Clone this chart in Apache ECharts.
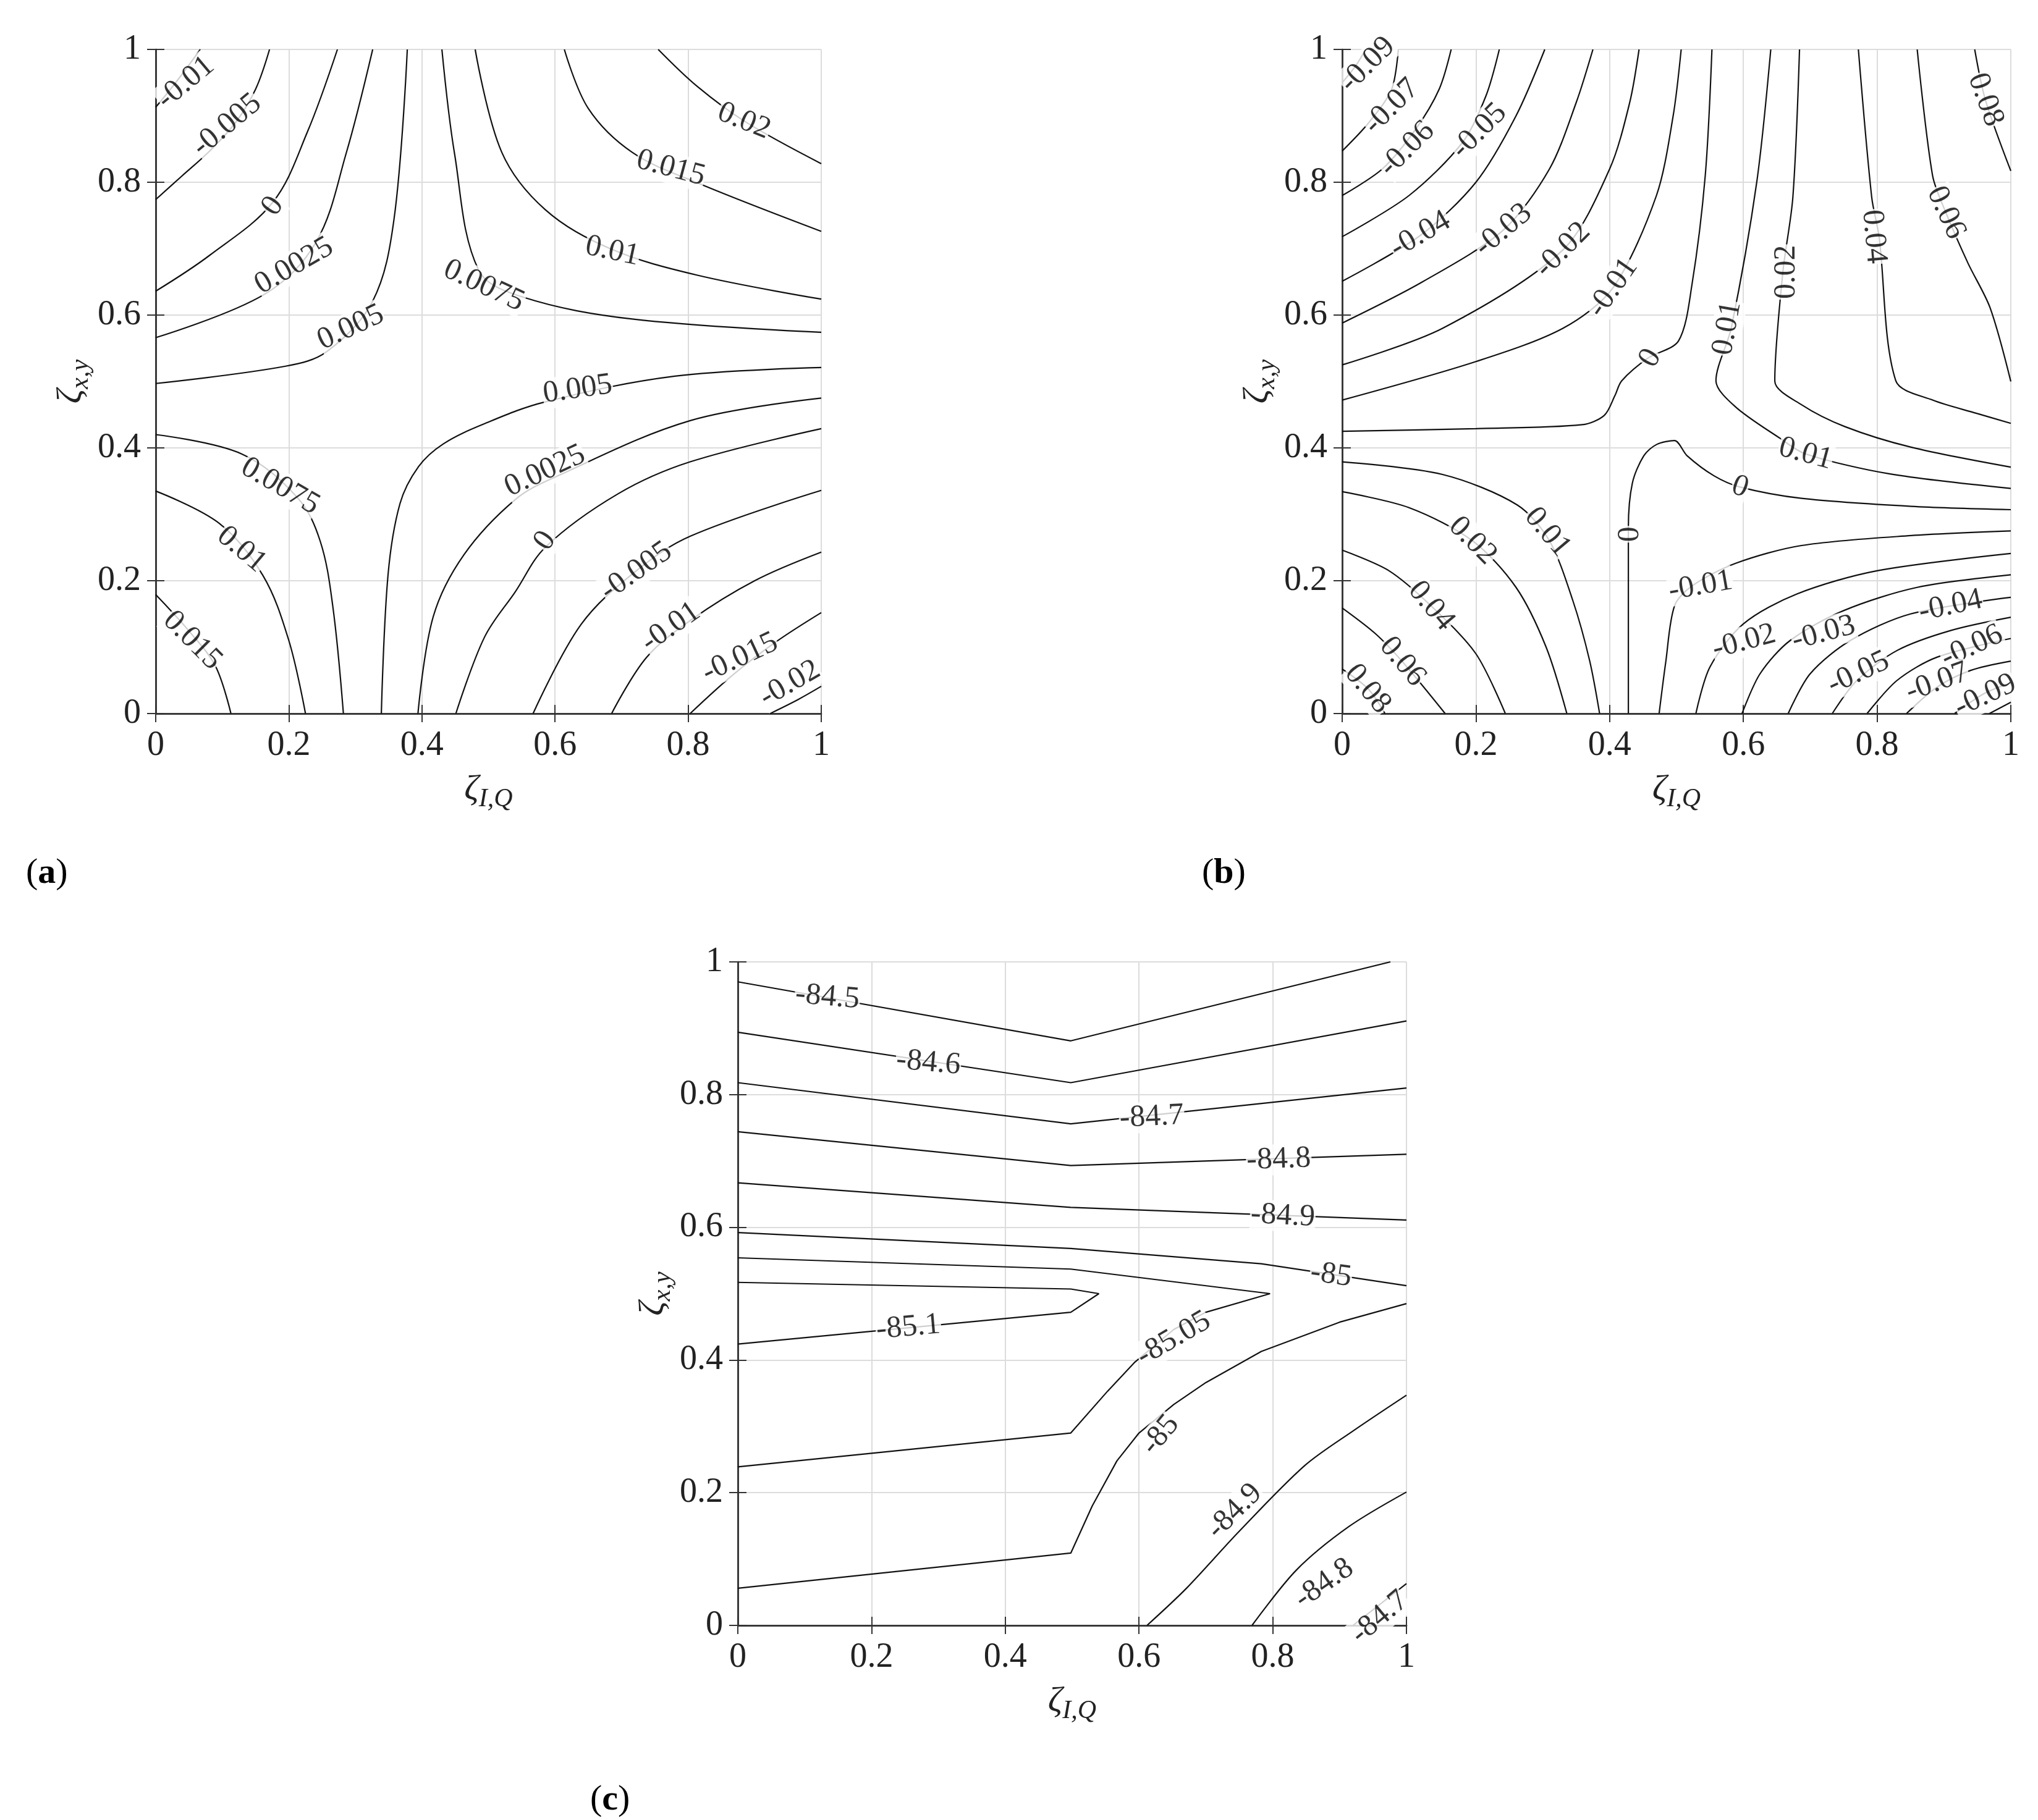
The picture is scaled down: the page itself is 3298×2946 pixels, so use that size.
<!DOCTYPE html>
<html>
<head>
<meta charset="utf-8">
<script src="https://cdn.jsdelivr.net/npm/echarts@6/dist/echarts.min.js"></script>
<style>
  html, body { margin: 0; padding: 0; background: #fff; }
  #chart { width: 3298px; height: 2946px; }
</style>
</head>
<body>
<div id="chart"></div>
<script>
// tick values shared by all three panels
const ticks = [0, 0.2, 0.4, 0.6, 0.8, 1];

// panel (a): contour paths [x, y]
const aPaths = [
    [[0, 0.913], [0.03, 0.95], [0.067, 1]],
    [[0, 0.774], [0.04, 0.81], [0.08, 0.846], [0.12, 0.89], [0.15, 0.94], [0.171, 1]],
    [[0, 0.636], [0.081, 0.69], [0.176, 0.77], [0.228, 0.876], [0.273, 1]],
    [[0, 0.566], [0.163, 0.631], [0.241, 0.71], [0.286, 0.843], [0.326, 1]],
    [[0, 0.497], [0.195, 0.523], [0.257, 0.545], [0.326, 0.621], [0.358, 0.744], [0.378, 1]],
    [[0.43, 1], [0.449, 0.843], [0.485, 0.668], [0.552, 0.627], [0.716, 0.594], [1, 0.574]],
    [[0.48, 1], [0.52, 0.845], [0.585, 0.759], [0.683, 0.7], [0.814, 0.66], [1, 0.624]],
    [[0.614, 1], [0.65, 0.911], [0.716, 0.845], [0.814, 0.799], [1, 0.726]],
    [[0.755, 1], [0.814, 0.944], [0.886, 0.891], [1, 0.828]],
    [[0, 0.42], [0.129, 0.391], [0.213, 0.325], [0.247, 0.26], [0.266, 0.162], [0.282, 0]],
    [[0, 0.335], [0.096, 0.286], [0.161, 0.208], [0.2, 0.11], [0.225, 0]],
    [[0, 0.179], [0.051, 0.123], [0.09, 0.071], [0.113, 0]],
    [[0.339, 0], [0.349, 0.208], [0.367, 0.316], [0.395, 0.372], [0.432, 0.406], [0.493, 0.436], [0.584, 0.469], [0.78, 0.508], [1, 0.521]],
    [[0.394, 0], [0.417, 0.146], [0.463, 0.239], [0.54, 0.322], [0.602, 0.357], [0.803, 0.441], [1, 0.475]],
    [[0.451, 0], [0.494, 0.115], [0.54, 0.183], [0.586, 0.251], [0.695, 0.331], [0.803, 0.379], [1, 0.429]],
    [[0.567, 0], [0.639, 0.134], [0.721, 0.214], [0.803, 0.267], [1, 0.336]],
    [[0.685, 0], [0.737, 0.084], [0.803, 0.14], [0.9, 0.2], [1, 0.243]],
    [[0.803, 0], [0.867, 0.058], [0.932, 0.108], [1, 0.152]],
    [[0.923, 0], [0.965, 0.021], [1, 0.041]]
];
// [x, y, text, rotation]
const aLabels = [
    [0.045, 0.95, '-0.01', 40], [0.107, 0.886, '-0.005', 40], [0.176, 0.764, '0', 55],
    [0.208, 0.674, '0.0025', 30], [0.293, 0.581, '0.005', 25], [0.493, 0.644, '0.0075', -25],
    [0.686, 0.696, '0.01', -12], [0.774, 0.821, '0.015', -15], [0.884, 0.892, '0.02', -22],
    [0.634, 0.488, '0.005', 8], [0.585, 0.365, '0.0025', 25], [0.585, 0.26, '0', 55],
    [0.722, 0.214, '-0.005', 35], [0.774, 0.13, '-0.01', 35], [0.878, 0.084, '-0.015', 25],
    [0.953, 0.045, '-0.02', 30], [0.187, 0.342, '0.0075', -30], [0.129, 0.247, '0.01', -40],
    [0.055, 0.11, '0.015', -45]
];

// panel (b)
const bPaths = [
    [[0, 0.95], [0.02, 0.975], [0.035, 1]],
    [[0, 0.847], [0.04, 0.89], [0.074, 0.94], [0.084, 1]],
    [[0, 0.78], [0.06, 0.82], [0.11, 0.88], [0.145, 0.94], [0.163, 1]],
    [[0, 0.718], [0.1, 0.78], [0.18, 0.86], [0.215, 0.93], [0.235, 1]],
    [[0, 0.651], [0.117, 0.72], [0.2, 0.8], [0.26, 0.9], [0.303, 1]],
    [[0, 0.588], [0.12, 0.65], [0.241, 0.728], [0.31, 0.82], [0.35, 0.92], [0.375, 1]],
    [[0, 0.525], [0.15, 0.58], [0.33, 0.698], [0.4, 0.82], [0.43, 0.92], [0.444, 1]],
    [[0, 0.472], [0.2, 0.53], [0.33, 0.58], [0.405, 0.641], [0.47, 0.78], [0.495, 0.9], [0.507, 1]],
    [[0, 0.425], [0.2, 0.429], [0.359, 0.435], [0.392, 0.449], [0.408, 0.479], [0.418, 0.501], [0.457, 0.535], [0.503, 0.561], [0.523, 0.645], [0.543, 0.81], [0.553, 1]],
    [[0.641, 1], [0.62, 0.8], [0.582, 0.581], [0.559, 0.501], [0.588, 0.462], [0.654, 0.415], [0.693, 0.391], [0.818, 0.361], [1, 0.339]],
    [[0.684, 1], [0.674, 0.777], [0.659, 0.664], [0.647, 0.501], [0.687, 0.465], [0.752, 0.432], [0.851, 0.401], [1, 0.371]],
    [[0.772, 1], [0.792, 0.777], [0.803, 0.718], [0.828, 0.501], [0.883, 0.472], [0.949, 0.452], [1, 0.437]],
    [[0.86, 1], [0.883, 0.81], [0.903, 0.754], [0.936, 0.678], [0.969, 0.611], [1, 0.5]],
    [[0.946, 1], [0.962, 0.924], [1, 0.817]],
    [[0.428, 0], [0.428, 0.28], [0.434, 0.347], [0.451, 0.388], [0.47, 0.405], [0.497, 0.411], [0.516, 0.388], [0.556, 0.358], [0.595, 0.341], [0.687, 0.324], [0.851, 0.312], [1, 0.307]],
    [[0, 0.379], [0.15, 0.36], [0.262, 0.314], [0.31, 0.26], [0.345, 0.17], [0.37, 0.08], [0.385, 0]],
    [[0, 0.334], [0.1, 0.31], [0.195, 0.26], [0.26, 0.19], [0.305, 0.1], [0.336, 0]],
    [[0, 0.246], [0.07, 0.215], [0.133, 0.162], [0.2, 0.09], [0.244, 0]],
    [[0, 0.159], [0.05, 0.12], [0.091, 0.077], [0.154, 0]],
    [[0, 0.067], [0.039, 0.037], [0.064, 0]],
    [[0.474, 0], [0.484, 0.078], [0.497, 0.162], [0.523, 0.192], [0.588, 0.226], [0.687, 0.253], [0.851, 0.268], [1, 0.275]],
    [[0.529, 0], [0.55, 0.07], [0.6, 0.135], [0.68, 0.18], [0.8, 0.215], [1, 0.241]],
    [[0.598, 0], [0.625, 0.06], [0.67, 0.11], [0.75, 0.155], [0.86, 0.19], [1, 0.209]],
    [[0.667, 0], [0.7, 0.06], [0.76, 0.11], [0.85, 0.15], [1, 0.175]],
    [[0.733, 0], [0.77, 0.05], [0.83, 0.095], [0.91, 0.125], [1, 0.145]],
    [[0.785, 0], [0.83, 0.05], [0.89, 0.085], [1, 0.113]],
    [[0.844, 0], [0.89, 0.04], [0.94, 0.065], [1, 0.079]],
    [[0.916, 0], [0.96, 0.03], [1, 0.046]],
    [[0.968, 0], [1, 0.017]]
];
const bLabels = [
    [0.038, 0.977, '-0.09', 45], [0.074, 0.914, '-0.07', 45], [0.097, 0.85, '-0.06', 45],
    [0.205, 0.877, '-0.05', 45], [0.117, 0.721, '-0.04', 30], [0.241, 0.728, '-0.03', 40],
    [0.33, 0.698, '-0.02', 45], [0.405, 0.641, '-0.01', 55], [0.461, 0.535, '0', 60],
    [0.576, 0.58, '0.01', 80], [0.664, 0.665, '0.02', 90], [0.795, 0.718, '0.04', -85],
    [0.903, 0.754, '0.06', -65], [0.962, 0.924, '0.08', -70],
    [0.693, 0.391, '0.01', -15], [0.595, 0.341, '0', -20], [0.431, 0.27, '0', 90],
    [0.307, 0.273, '0.01', -50], [0.195, 0.26, '0.02', -45], [0.133, 0.162, '0.04', -50],
    [0.09, 0.078, '0.06', -50], [0.038, 0.037, '0.08', -50],
    [0.536, 0.192, '-0.01', 10], [0.601, 0.108, '-0.02', 15], [0.72, 0.121, '-0.03', 15],
    [0.91, 0.162, '-0.04', 12], [0.772, 0.061, '-0.05', 25], [0.942, 0.101, '-0.06', 25],
    [0.89, 0.047, '-0.07', 20], [0.962, 0.027, '-0.09', 25]
];

// panel (c); the last three paths are curved, the rest straight segments
const cPaths = [
    [[0, 0.97], [0.498, 0.881], [0.976, 1]],
    [[0, 0.894], [0.498, 0.818], [1, 0.911]],
    [[0, 0.818], [0.498, 0.756], [1, 0.81]],
    [[0, 0.744], [0.498, 0.693], [1, 0.71]],
    [[0, 0.667], [0.498, 0.63], [1, 0.611]],
    [[0, 0.592], [0.498, 0.568], [0.783, 0.545], [1, 0.512]],
    [[0, 0.554], [0.498, 0.537], [0.796, 0.5], [0.7, 0.472], [0.652, 0.446], [0.593, 0.396], [0.553, 0.353], [0.498, 0.29], [0, 0.239]],
    [[0, 0.517], [0.498, 0.507], [0.54, 0.5], [0.498, 0.472], [0, 0.424]],
    [[1, 0.485], [0.9, 0.457], [0.783, 0.413], [0.7, 0.366], [0.652, 0.333], [0.6, 0.29], [0.567, 0.248], [0.53, 0.18], [0.498, 0.109], [0, 0.056]],
    [[1, 0.347], [0.92, 0.293], [0.848, 0.241], [0.75, 0.142], [0.671, 0.056], [0.612, 0]],
    [[1, 0.201], [0.914, 0.149], [0.835, 0.083], [0.769, 0]],
    [[1, 0.063], [0.92, 0]]
];
const cLabels = [
    [0.134, 0.947, '-84.5', -5], [0.285, 0.848, '-84.6', -5], [0.619, 0.766, '-84.7', 3],
    [0.809, 0.702, '-84.8', 2], [0.815, 0.617, '-84.9', -3], [0.887, 0.528, '-85', -8],
    [0.255, 0.449, '-85.1', 5], [0.652, 0.432, '-85.05', 30], [0.632, 0.287, '-85', 50],
    [0.743, 0.172, '-84.9', 45], [0.877, 0.063, '-84.8', 35], [0.96, 0.012, '-84.7', 40]
];

const grids = [
    { left: 252, top: 80, width: 1077, height: 1075 },
    { left: 2172, top: 80, width: 1082, height: 1075 },
    { left: 1194, top: 1557, width: 1082, height: 1074 }
];

const font = '"Liberation Serif", "Times New Roman", serif';

function nameRich() {
    return {
        b: { fontFamily: font, fontSize: 58, fontStyle: 'italic', color: '#222' },
        s: { fontFamily: font, fontSize: 42, fontStyle: 'italic', color: '#222', verticalAlign: 'bottom', padding: [30, 0, 0, 0] }
    };
}

let xAxes = [], yAxes = [], series = [];
// [paths, labels, smooth flag per path]
const panels = [
    [aPaths, aLabels, aPaths.map(() => 0.35)],
    [bPaths, bLabels, bPaths.map(() => 0.3)],
    [cPaths, cLabels, cPaths.map((p, k) => (k >= 9 ? 0.3 : false))]
];

panels.forEach((p, i) => {
    const common = {
        gridIndex: i, type: 'value', min: 0, max: 1, interval: 0.2,
        axisLine: { show: true, lineStyle: { color: '#333', width: 2.5 } },
        axisTick: { show: true, inside: true, length: 14, lineStyle: { color: '#333', width: 2 } },
        splitLine: { show: true, lineStyle: { color: '#dcdcdc', width: 2 } },
        axisLabel: { fontFamily: font, fontSize: 56, color: '#222', margin: 24 }
    };
    xAxes.push(Object.assign({}, common, {
        position: 'bottom',
        name: '{b|ζ}{s|I,Q}',
        nameLocation: 'middle', nameGap: 88,
        nameTextStyle: { rich: nameRich() }
    }));
    xAxes.push(Object.assign({}, common, {
        position: 'top', axisLabel: { show: false }, splitLine: { show: false }
    }));
    yAxes.push(Object.assign({}, common, {
        position: 'left',
        name: '{b|ζ}{s|x,y}',
        nameLocation: 'middle', nameGap: 100, nameRotate: 90,
        nameTextStyle: { rich: nameRich() }
    }));
    yAxes.push(Object.assign({}, common, {
        position: 'right', axisLabel: { show: false }, splitLine: { show: false }
    }));

    p[0].forEach((path, k) => {
        series.push({
            type: 'line', xAxisIndex: 2 * i, yAxisIndex: 2 * i,
            data: path, showSymbol: false, smooth: p[2][k],
            lineStyle: { color: '#111', width: 2.2 }, silent: true, z: 2
        });
    });
    series.push({
        type: 'scatter', xAxisIndex: 2 * i, yAxisIndex: 2 * i,
        symbolSize: 0, silent: true, z: 5,
        data: p[1].map(l => ({
            value: [l[0], l[1]],
            label: { rotate: l[3], formatter: l[2] }
        })),
        label: {
            show: true, position: 'inside', fontFamily: font, fontSize: 50, color: '#000',
            backgroundColor: '#fff', padding: [0, 1]
        }
    });
});

const chart = echarts.init(document.getElementById('chart'));
chart.setOption({
    backgroundColor: '#fff',
    animation: false,
    grid: grids,
    xAxis: xAxes,
    yAxis: yAxes,
    series: series,
    graphic: [
        ['a', 42, 1385], ['b', 1945, 1385], ['c', 955, 2885]
    ].map(g => ({
        type: 'text', left: g[1], top: g[2],
        style: {
            text: '({b|' + g[0] + '})',
            rich: { b: { fontFamily: font, fontSize: 58, fontWeight: 'bold', fill: '#000' } },
            fontFamily: font, fontSize: 58, fill: '#000'
        }
    }))
});
</script>
</body>
</html>
